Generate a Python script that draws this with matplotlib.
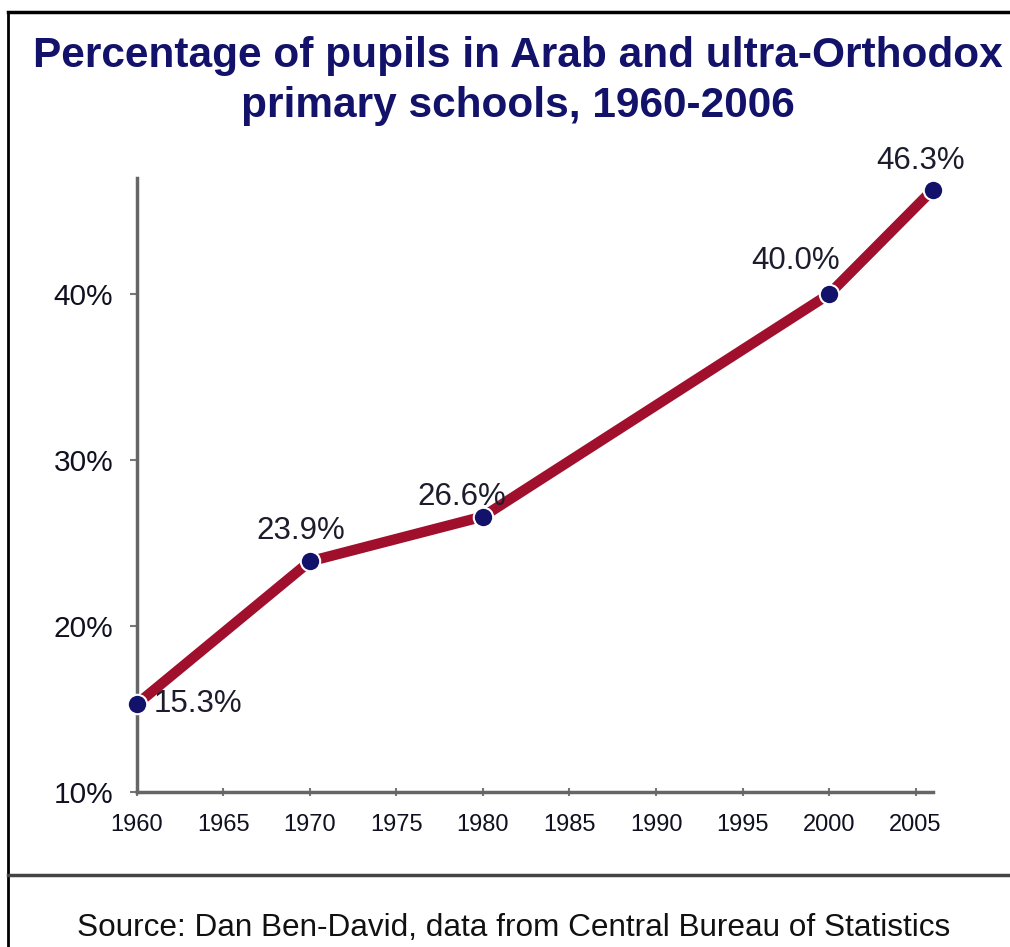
import matplotlib
matplotlib.use("Agg")
import matplotlib.pyplot as plt
from matplotlib.lines import Line2D

plt.rcParams['font.family'] = ['Liberation Sans', 'DejaVu Sans']

# data
years = [1960, 1970, 1980, 2000, 2006]
share = [15.3, 23.9, 26.6, 40.0, 46.3]
labels = ["15.3%", "23.9%", "26.6%", "40.0%", "46.3%"]
xticks = list(range(1960, 2010, 5))
yticks = [10, 20, 30, 40]

TITLE = "Percentage of pupils in Arab and ultra-Orthodox\nprimary schools, 1960-2006"
SOURCE = "Source: Dan Ben-David, data from Central Bureau of Statistics"

NAVY = "#12126a"
RED = "#a0102c"

fig = plt.figure(figsize=(10.10, 9.47), dpi=100)
ax = fig.add_axes([0.1356, 0.1637, 0.788, 0.6483])

ax.plot(years, share, color=RED, lw=7.5, solid_capstyle="butt", zorder=2)
ax.plot(years, share, "o", ms=14, color=NAVY, mec="white", mew=1.5, zorder=3,
        clip_on=False)

# label placement (offsets in points) per point
offs = [(12, 0, "left", "center"), (-7, 11, "center", "bottom"),
        (-15, 3, "center", "bottom"), (-24, 13, "center", "bottom"),
        (-9, 10, "center", "bottom")]
for x, y, lab, (dx, dy, ha, va) in zip(years, share, labels, offs):
    ax.annotate(lab, (x, y), xytext=(dx, dy), textcoords="offset points",
                ha=ha, va=va, fontsize=22.5, color="#1c1c2c", zorder=4)

ax.set_xlim(1960, 2006)
ax.set_ylim(10, 47)
ax.set_xticks(xticks)
ax.set_yticks(yticks)
ax.set_yticklabels([f"{v}%" for v in yticks], fontsize=21.5, color="#101020")
ax.set_xticklabels([str(v) for v in xticks], fontsize=17, color="#101020")
ax.tick_params(axis="y", length=5, width=1.5, color="#777777", pad=12)
ax.tick_params(axis="x", length=6, width=1.5, color="#777777", direction="inout", pad=13)
for s in ("top", "right"):
    ax.spines[s].set_visible(False)
for s in ("left", "bottom"):
    ax.spines[s].set_color("#666666")
    ax.spines[s].set_linewidth(2.5)

fig.text(0.513, 0.962, TITLE, ha="center", va="top", fontsize=30.5,
         fontweight="bold", color=NAVY, linespacing=1.32)
fig.text(0.509, 0.020, SOURCE, ha="center", va="center", fontsize=22.7, color="#111111")

# outer frame and separator
fig.add_artist(Line2D([0.008, 1.0], [1 - 12 / 947, 1 - 12 / 947], color="black", lw=2.5))
fig.add_artist(Line2D([0.008, 0.008], [0, 1 - 12 / 947], color="black", lw=2))
fig.add_artist(Line2D([0.008, 1.0], [1 - 875 / 947, 1 - 875 / 947], color="#444444", lw=2.5))

fig.savefig("out.png", dpi=100)
